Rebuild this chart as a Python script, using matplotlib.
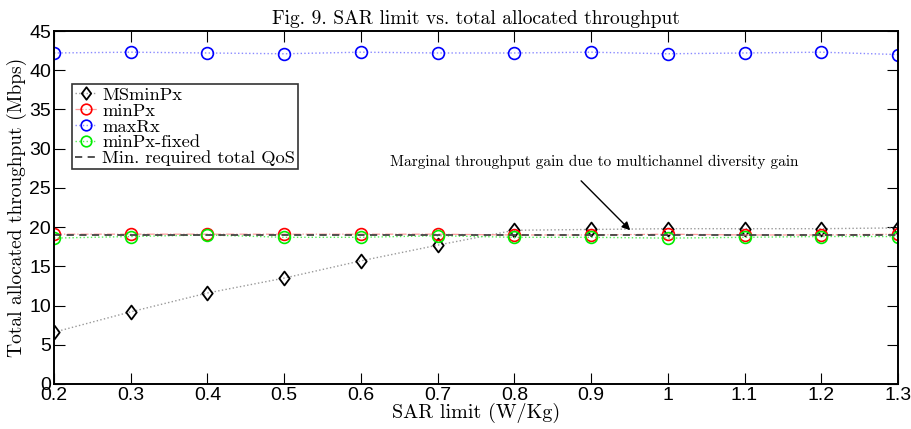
import matplotlib
matplotlib.use("Agg")
import matplotlib.pyplot as plt
from matplotlib.path import Path
import numpy as np

plt.rcParams['axes.formatter.use_mathtext'] = True
plt.rcParams['mathtext.fontset'] = 'cm'

sar_limit = [0.2, 0.3, 0.4, 0.5, 0.6, 0.7, 0.8, 0.9, 1.0, 1.1, 1.2, 1.3]
ms_min_px = [6.6, 9.2, 11.6, 13.5, 15.7, 17.7, 19.6, 19.7, 19.8, 19.8, 19.8, 19.9]
min_px = [19.1, 19.1, 19.1, 19.1, 19.1, 19.1, 19.0, 19.0, 19.1, 19.0, 19.0, 19.1]
max_rx = [42.2, 42.3, 42.2, 42.1, 42.3, 42.2, 42.2, 42.3, 42.1, 42.2, 42.3, 42.0]
min_px_fixed = [18.6, 18.8, 19.0, 18.7, 18.7, 18.9, 18.7, 18.7, 18.6, 18.7, 18.8, 18.8]
qos_min = 19.0

xticks = [0.2, 0.3, 0.4, 0.5, 0.6, 0.7, 0.8, 0.9, 1, 1.1, 1.2, 1.3]
xticklabels = ['0.2', '0.3', '0.4', '0.5', '0.6', '0.7', '0.8', '0.9', '1', '1.1', '1.2', '1.3']
yticks = [0, 5, 10, 15, 20, 25, 30, 35, 40, 45]

serif = 'cmr10'
tick_font = 'Liberation Sans'

# tall open diamond like MATLAB's 'd'
diamond = Path([(0, 1), (0.75, 0), (0, -1), (-0.75, 0), (0, 1)],
               [Path.MOVETO, Path.LINETO, Path.LINETO, Path.LINETO, Path.CLOSEPOLY])

fig = plt.figure(figsize=(9.11, 4.29), dpi=100)
ax = fig.add_axes([0.0593, 0.1049, 0.9264, 0.8228])

ax.plot(sar_limit, ms_min_px, linestyle=':', color='#999999', linewidth=1,
        marker=diamond, markersize=10, markerfacecolor='none',
        markeredgecolor='black', markeredgewidth=1.3, label='MSminPx')
ax.plot(sar_limit, min_px, linestyle='-.', color='#ff9a9a', linewidth=0.9,
        marker='o', markersize=8.5, markerfacecolor='none',
        markeredgecolor='red', markeredgewidth=1.2, label='minPx')
ax.plot(sar_limit, max_rx, linestyle=':', color='#8a8aff', linewidth=1,
        marker='o', markersize=8.5, markerfacecolor='none',
        markeredgecolor='blue', markeredgewidth=1.2, label='maxRx')
ax.plot(sar_limit, min_px_fixed, linestyle=':', color='#55ee55', linewidth=1,
        marker='o', markersize=8.5, markerfacecolor='none',
        markeredgecolor='#00ee00', markeredgewidth=1.2, label='minPx-fixed')
ax.axhline(qos_min, color='#444444', linestyle=(0, (4, 3)), linewidth=1.3,
           label='Min. required total QoS')

ax.set_xlim(0.2, 1.3)
ax.set_ylim(0, 45)
ax.set_xticks(xticks)
ax.set_xticklabels(xticklabels, fontfamily=tick_font, fontsize=14)
ax.set_yticks(yticks)
ax.set_yticklabels([str(v) for v in yticks], fontfamily=tick_font, fontsize=14)
ax.tick_params(direction='in', length=8, width=0.8, top=True, right=True, pad=2)
for s in ax.spines.values():
    s.set_linewidth(1.4)

ax.set_xlabel('SAR limit (W/Kg)', fontfamily=serif, fontsize=14.5, labelpad=-1)
ax.set_ylabel('Total allocated throughput (Mbps)', fontfamily=serif, fontsize=14, labelpad=2)
ax.set_title('Fig. 9. SAR limit vs. total allocated throughput', fontfamily=serif,
             fontsize=14, pad=5)

ax.text(0.904, 27.4, 'Marginal throughput gain due to multichannel diversity gain',
        fontfamily=serif, fontsize=11, ha='center', va='bottom')
ax.annotate('', xy=(0.951, 19.6), xytext=(0.887, 25.9),
            arrowprops=dict(arrowstyle='-|>', color='black', linewidth=1,
                            mutation_scale=12, shrinkA=0, shrinkB=0))

leg = ax.legend(loc='upper left', bbox_to_anchor=(0.021, 0.85),
                prop={'family': serif, 'size': 13.3}, frameon=True, fancybox=False,
                edgecolor='black', handlelength=1.2, handletextpad=0.3,
                labelspacing=0.0, borderpad=0.15, borderaxespad=0, markerscale=0.9)
leg.get_frame().set_linewidth(1.2)

fig.savefig('out.png', dpi=100)
